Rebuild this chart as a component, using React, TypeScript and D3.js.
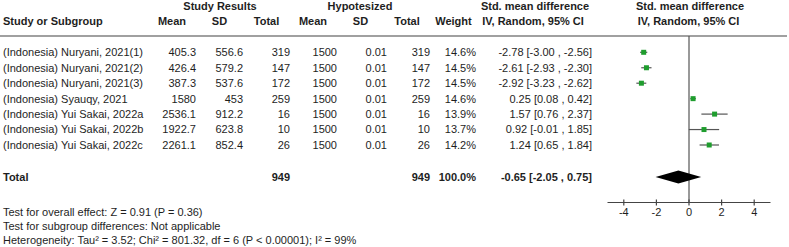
import React from "react";
import * as d3 from "d3";

const studies = [
  "(Indonesia) Nuryani, 2021(1)",
  "(Indonesia) Nuryani, 2021(2)",
  "(Indonesia) Nuryani, 2021(3)",
  "(Indonesia) Syauqy, 2021",
  "(Indonesia) Yui Sakai, 2022a",
  "(Indonesia) Yui Sakai, 2022b",
  "(Indonesia) Yui Sakai, 2022c",
];
const meanE = [405.3, 426.4, 387.3, 1580, 2536.1, 1922.7, 2261.1];
const sdE = [556.6, 579.2, 537.6, 453, 912.2, 623.8, 852.4];
const nE = [319, 147, 172, 259, 16, 10, 26];
const meanC = [1500, 1500, 1500, 1500, 1500, 1500, 1500];
const sdC = [0.01, 0.01, 0.01, 0.01, 0.01, 0.01, 0.01];
const nC = [319, 147, 172, 259, 16, 10, 26];
const weights = [14.6, 14.5, 14.5, 14.6, 13.9, 13.7, 14.2];
const smd = [-2.78, -2.61, -2.92, 0.25, 1.57, 0.92, 1.24];
const lower = [-3.0, -2.93, -3.23, 0.08, 0.76, -0.01, 0.65];
const upper = [-2.56, -2.3, -2.62, 0.42, 2.37, 1.85, 1.84];
const totalNE = 949;
const totalNC = 949;
const totalWeight = 100.0;
const totalSmd = -0.65;
const totalLower = -2.05;
const totalUpper = 0.75;
const axisTicks = [-4, -2, 0, 2, 4];
const footer = [
  "Test for overall effect: Z = 0.91 (P = 0.36)",
  "Test for subgroup differences: Not applicable",
  "Heterogeneity: Tau² = 3.52; Chi² = 801.32, df = 6 (P < 0.00001); I² = 99%",
];

const W = 789;
const H = 247;
const FONT = "Arial, 'Liberation Sans', sans-serif";
const TXT = "#1e1e1e";

const fmt2 = (v: number) => v.toFixed(2);
const ciText = (m: number, l: number, u: number) => `${fmt2(m)} [${fmt2(l)} , ${fmt2(u)}]`;

export default function App() {
  const x = d3.scaleLinear().domain([-5, 5]).range([607.5, 770.5]);
  const y = d3.scaleLinear().domain([0, 6]).range([52.3, 145]);
  const yTotal = 177;
  const axisY = 202.5;
  const colRight = [196, 243, 290, 337, 387, 430, 476, 592];

  const cell = (txt: string, xr: number, yy: number, bold = false, key?: string) => (
    <text key={key} x={xr} y={yy} dy="0.35em" textAnchor="end" fontWeight={bold ? "bold" : "normal"}>
      {txt}
    </text>
  );

  return (
    <svg
      width={W}
      height={H}
      style={{ position: "absolute", left: 0, top: 0, background: "#fff" }}
      fontFamily={FONT}
      fontSize={11}
      fill={TXT}
    >
      <rect x={0} y={0} width={W} height={H} fill="#fff" />
      {/* headers */}
      <g fontWeight="bold">
        <text x={220} y={6} dy="0.35em" textAnchor="middle">Study Results</text>
        <text x={360} y={6} dy="0.35em" textAnchor="middle">Hypotesized</text>
        <text x={535} y={6} dy="0.35em" textAnchor="middle">Std. mean difference</text>
        <text x={690} y={6} dy="0.35em" textAnchor="middle">Std. mean difference</text>
        <text x={3} y={21} dy="0.35em">Study or Subgroup</text>
        <text x={172} y={21} dy="0.35em" textAnchor="middle">Mean</text>
        <text x={219.5} y={21} dy="0.35em" textAnchor="middle">SD</text>
        <text x={266.5} y={21} dy="0.35em" textAnchor="middle">Total</text>
        <text x={313} y={21} dy="0.35em" textAnchor="middle">Mean</text>
        <text x={360.5} y={21} dy="0.35em" textAnchor="middle">SD</text>
        <text x={407} y={21} dy="0.35em" textAnchor="middle">Total</text>
        <text x={453.5} y={21} dy="0.35em" textAnchor="middle">Weight</text>
        <text x={533} y={21} dy="0.35em" textAnchor="middle">IV, Random, 95% CI</text>
        <text x={688.5} y={21} dy="0.35em" textAnchor="middle">IV, Random, 95% CI</text>
      </g>
      <line x1={0} x2={787} y1={36} y2={36} stroke="#808080" strokeWidth={1.5} />

      {/* rows */}
      {studies.map((s, i) => {
        const yy = y(i);
        return (
          <g key={s}>
            <text x={3} y={yy} dy="0.35em">{s}</text>
            {cell(String(meanE[i]), colRight[0], yy)}
            {cell(String(sdE[i]), colRight[1], yy)}
            {cell(String(nE[i]), colRight[2], yy)}
            {cell(String(meanC[i]), colRight[3], yy)}
            {cell(String(sdC[i]), colRight[4], yy)}
            {cell(String(nC[i]), colRight[5], yy)}
            {cell(`${weights[i].toFixed(1)}%`, colRight[6], yy)}
            {cell(ciText(smd[i], lower[i], upper[i]), colRight[7], yy)}
          </g>
        );
      })}

      {/* total row */}
      <text x={3} y={yTotal} dy="0.35em" fontWeight="bold">Total</text>
      {cell(String(totalNE), colRight[2], yTotal, true)}
      {cell(String(totalNC), colRight[5], yTotal, true)}
      {cell(`${totalWeight.toFixed(1)}%`, colRight[6], yTotal, true)}
      {cell(ciText(totalSmd, totalLower, totalUpper), colRight[7], yTotal, true)}

      {/* forest plot */}
      <line x1={x(0)} x2={x(0)} y1={36} y2={axisY} stroke="#555" strokeWidth={1.2} />
      {studies.map((s, i) => {
        const yy = y(i);
        return (
          <g key={"p" + s}>
            <line x1={x(lower[i])} x2={x(upper[i])} y1={yy} y2={yy} stroke="#555" strokeWidth={1.2} />
            <rect x={x(smd[i]) - 2.5} y={yy - 2.5} width={5} height={5} fill="#1f9d2e" />
          </g>
        );
      })}
      <path
        d={`M${x(totalLower)},${yTotal} L${x(totalSmd)},${yTotal - 6.5} L${x(totalUpper)},${yTotal} L${x(totalSmd)},${yTotal + 6.5} Z`}
        fill="#000"
      />

      {/* axis */}
      <line x1={x(-5)} x2={x(5)} y1={axisY} y2={axisY} stroke="#444" strokeWidth={1.2} />
      {axisTicks.map((t) => (
        <g key={t}>
          <line x1={x(t)} x2={x(t)} y1={axisY - 3} y2={axisY + 3} stroke="#444" strokeWidth={1.2} />
          <text x={x(t)} y={212.5} dy="0.35em" textAnchor="middle">{t < 0 ? `-${Math.abs(t)}` : String(t)}</text>
        </g>
      ))}

      {/* footer */}
      {footer.map((f, i) => (
        <text key={f} x={3} y={212.5 + i * 14} dy="0.35em">{f}</text>
      ))}
    </svg>
  );
}
